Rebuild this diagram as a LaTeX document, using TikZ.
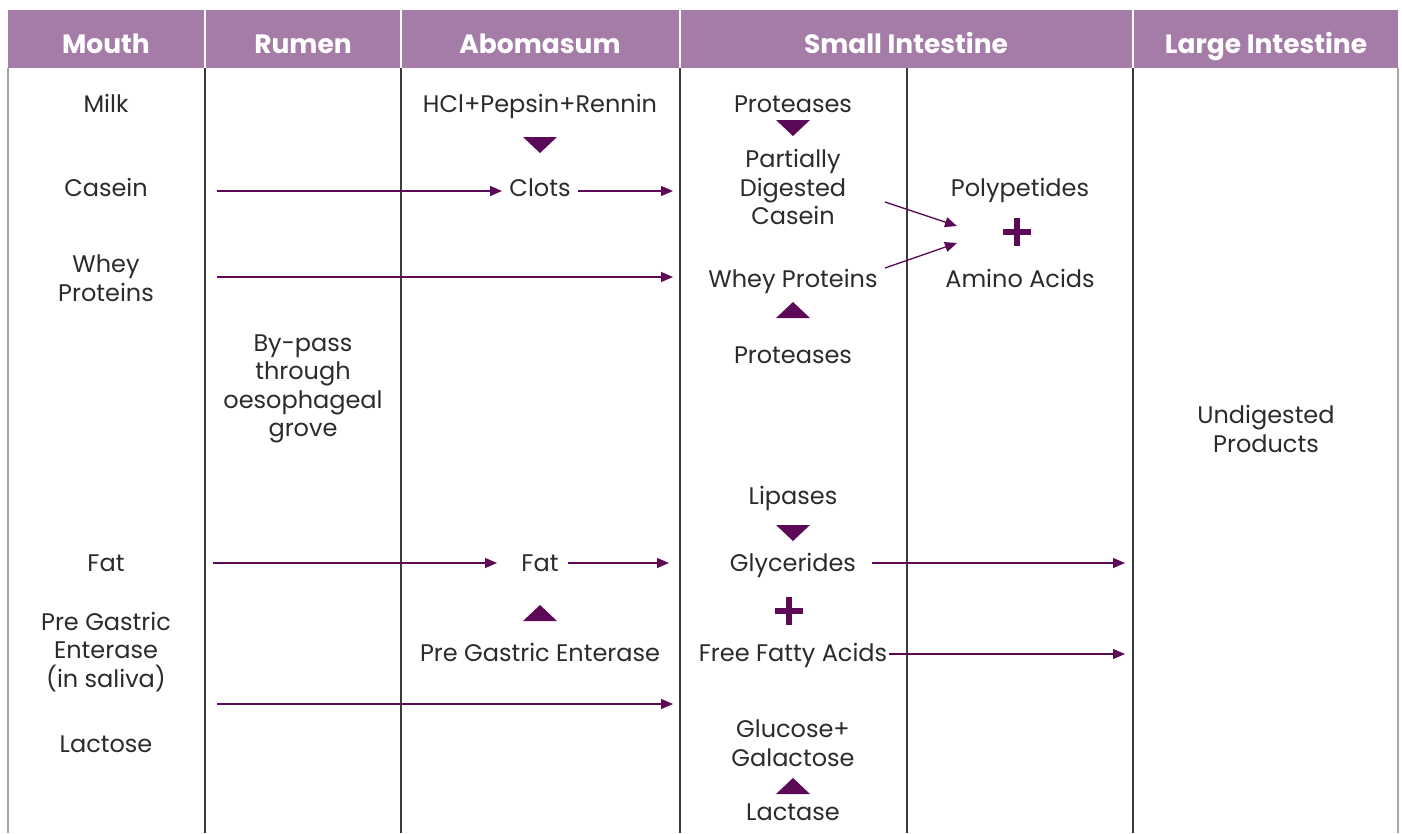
\documentclass[tikz,border=0pt]{standalone}
\usepackage{fontspec}
\setmainfont{Poppins}
\usetikzlibrary{arrows.meta}
\definecolor{hdr}{HTML}{A57CA8}
\definecolor{dpur}{HTML}{5C0A58}
\definecolor{txt}{HTML}{2B2B2B}
\definecolor{vline}{HTML}{3A3A3A}
\tikzset{
  x=1pt, y=-1pt,
  ml/.style={font=\fontsize{24}{28.5}\selectfont, text=txt, align=center, inner sep=0pt},
  lbl/.style={ml, anchor=base},
  hd/.style={font=\fontsize{26.5}{30}\selectfont\bfseries, text=white, inner sep=0pt, anchor=base},
  flow/.style={draw=dpur, line width=1.3pt, -{Triangle[length=12pt,width=10pt]}},
  tri/.style={fill=dpur, draw=none},
  plus/.style={draw=dpur, line width=6.5pt},
  col/.style={draw=vline, line width=1.4pt},
  border/.style={draw=gray!70, line width=1.4pt}
}
\begin{document}
\begin{tikzpicture}
\useasboundingbox (0,0) rectangle (1402,833);
% header
\fill[hdr] (8,10) rectangle (1398,68);
\foreach \x in {205,401,680,1133} \draw[white, line width=1.5pt] (\x,10) -- (\x,68);
% body lines
\draw[border] (8,68) -- (8,833);
\draw[border] (1398,68) -- (1398,833);
\foreach \x in {205,401,680,907,1133} \draw[col] (\x,68) -- (\x,833);
% header text
\node[hd] (hMouth) at (106,53) {Mouth};
\node[hd] (hRumen) at (303,53) {Rumen};
\node[hd] (hAbo) at (540,53) {Abomasum};
\node[hd] (hSI) at (906,53) {Small Intestine};
\node[hd] (hLI) at (1266,53) {Large Intestine};
% Mouth column
\node[lbl] (milk) at (106,112) {Milk};
\node[lbl] (casein) at (106,196) {Casein};
\node[ml] (whey) at (106,278) {Whey\\Proteins};
\node[lbl] (fatm) at (106,571) {Fat};
\node[ml] (pge) at (106,652) {Pre Gastric\\Enterase\\(in saliva)};
\node[lbl] (lactose) at (106,752) {Lactose};
% Rumen
\node[ml] (bypass) at (303,389) {By-pass\\through\\oesophageal\\grove};
% Abomasum
\node[lbl] (hcl) at (540,112) {HCl+Pepsin+Rennin};
\node[lbl] (clots) at (540,196) {Clots};
\node[lbl] (fata) at (540,571) {Fat};
\node[lbl] (pgea) at (540,661) {Pre Gastric Enterase};
\fill[tri] (523,137) -- (557,137) -- (540,153) -- cycle;
\fill[tri] (523,621) -- (557,621) -- (540,605) -- cycle;
% Small intestine left
\node[lbl] (prot1) at (793,112) {Proteases};
\node[ml] (pdc) at (793,187) {Partially\\Digested\\Casein};
\node[lbl] (wp) at (793,287) {Whey Proteins};
\node[lbl] (prot2) at (793,363) {Proteases};
\node[lbl] (lip) at (793,504) {Lipases};
\node[lbl] (gly) at (793,571) {Glycerides};
\node[lbl] (ffa) at (793,661) {Free Fatty Acids};
\node[ml] (gg) at (793,743) {Glucose+\\Galactose};
\node[lbl] (lactase) at (793,820) {Lactase};
\fill[tri] (776,120) -- (810,120) -- (793,136) -- cycle;
\fill[tri] (776,318) -- (810,318) -- (793,302) -- cycle;
\fill[tri] (776,525) -- (810,525) -- (793,541) -- cycle;
\fill[tri] (776,794) -- (810,794) -- (793,778) -- cycle;
\draw[plus] (775,611) -- (803,611) (789,597) -- (789,625);
% Small intestine right
\node[lbl] (poly) at (1020,196) {Polypetides};
\node[lbl] (amino) at (1020,287) {Amino Acids};
\draw[plus] (1003,232) -- (1031,232) (1017,218) -- (1017,246);
% Large intestine
\node[ml] (undig) at (1266,429) {Undigested\\Products};
% connector end points
\coordinate (c1) at (217,191);
\coordinate (c2) at (502,191);
\coordinate (c3) at (578,191);
\coordinate (c4) at (673,191);
\coordinate (w1) at (217,277);
\coordinate (w2) at (673,277);
\coordinate (p1) at (885,202);
\coordinate (p2) at (957,226);
\coordinate (q1) at (885,268);
\coordinate (q2) at (957,243);
\coordinate (f1) at (213,563);
\coordinate (f2) at (497,563);
\coordinate (f3) at (568,563);
\coordinate (f4) at (669,563);
\coordinate (g1) at (872,563);
\coordinate (g2) at (1125,563);
\coordinate (h1) at (889,654);
\coordinate (h2) at (1125,654);
\coordinate (l1) at (217,704);
\coordinate (l2) at (673,704);
\draw[flow] (c1) -- (c2);
\draw[flow] (c3) -- (c4);
\draw[flow] (w1) -- (w2);
\draw[flow] (p1) -- (p2);
\draw[flow] (q1) -- (q2);
\draw[flow] (f1) -- (f2);
\draw[flow] (f3) -- (f4);
\draw[flow] (g1) -- (g2);
\draw[flow] (h1) -- (h2);
\draw[flow] (l1) -- (l2);
\end{tikzpicture}
\end{document}
